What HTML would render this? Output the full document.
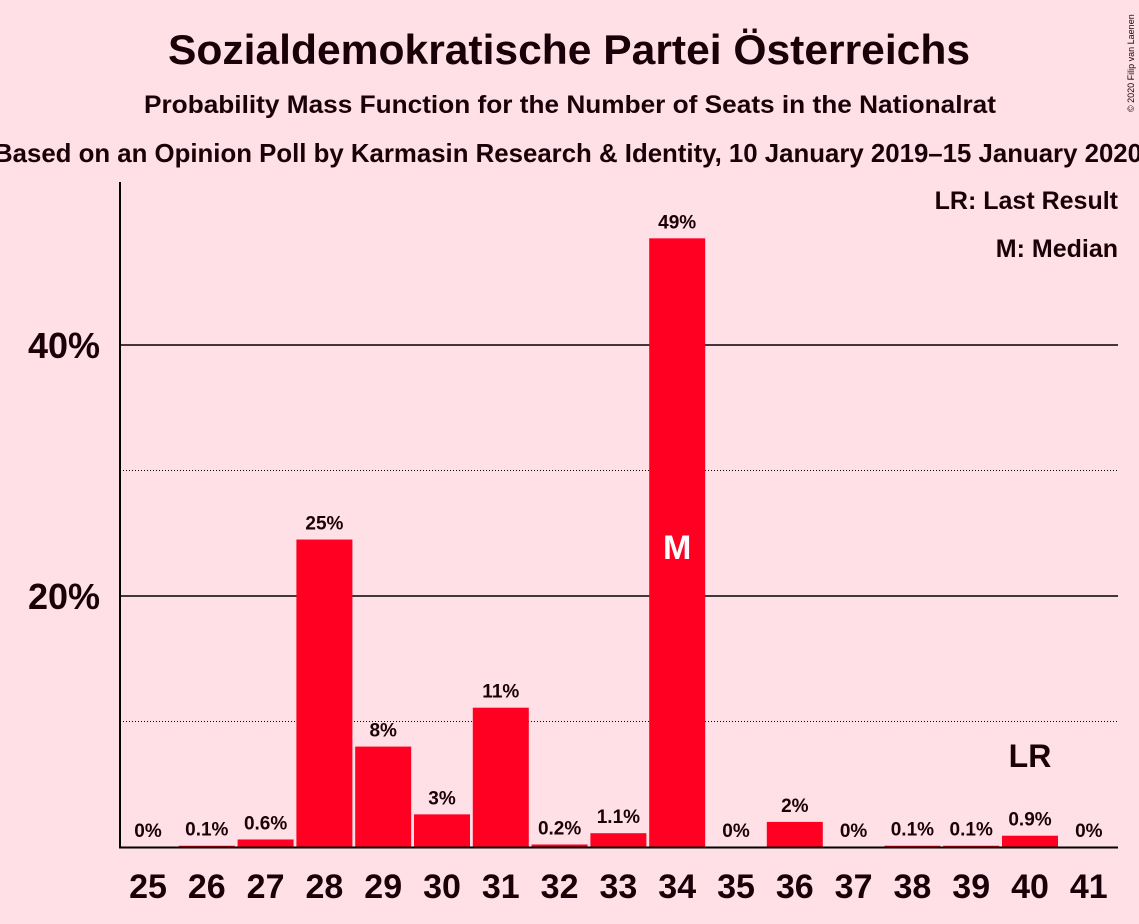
<!DOCTYPE html>
<html><head><meta charset="utf-8"><style>
body{margin:0;background:#FFE0E6;}
svg{display:block;font-family:"Liberation Sans",sans-serif;}
</style></head><body>
<svg id="chart" width="1139" height="924">
<rect width="1139" height="924" fill="#FFE0E6"/>
<text x="569" y="64" text-anchor="middle" font-size="42" font-weight="bold" fill="#1a0008" textLength="802" lengthAdjust="spacingAndGlyphs">Sozialdemokratische Partei Österreichs</text>
<text x="570" y="113" text-anchor="middle" font-size="25" font-weight="bold" fill="#1a0008" textLength="852" lengthAdjust="spacingAndGlyphs">Probability Mass Function for the Number of Seats in the Nationalrat</text>
<text x="568" y="162" text-anchor="middle" font-size="26" font-weight="bold" fill="#1a0008" textLength="1148" lengthAdjust="spacingAndGlyphs">Based on an Opinion Poll by Karmasin Research &amp; Identity, 10 January 2019–15 January 2020</text>
<text transform="translate(1134,112) rotate(-90)" font-size="9" fill="#1a0008">© 2020 Filip van Laenen</text>
<g id="grid"></g>
<g id="bars"></g>
<line x1="120" y1="182" x2="120" y2="848" stroke="#000" stroke-width="2"/>
<line x1="119" y1="847.5" x2="1118" y2="847.5" stroke="#000" stroke-width="2"/>
<text x="1118" y="209" text-anchor="end" font-size="25" font-weight="bold" fill="#1a0008">LR: Last Result</text>
<text x="1118" y="257" text-anchor="end" font-size="25" font-weight="bold" fill="#1a0008">M: Median</text>
</svg>
<script>
const seats=[25,26,27,28,29,30,31,32,33,34,35,36,37,38,39,40,41];
const probs=[0,0.1,0.6,24.5,8,2.6,11.1,0.2,1.1,48.5,0,2,0,0.1,0.1,0.9,0];
const labels=["0%","0.1%","0.6%","25%","8%","3%","11%","0.2%","1.1%","49%","0%","2%","0%","0.1%","0.1%","0.9%","0%"];
const yTicks=[20,40];
const yTickLabels=["20%","40%"];
const yMinor=[10,30];
const medianSeat=34, lastResultSeat=40;
const NS="http://www.w3.org/2000/svg";
const y=v=>847-v*12.55;
const x=s=>148+(s-25)*58.8;
function mk(t,a,p){const e=document.createElementNS(NS,t);for(const k in a)e.setAttribute(k,a[k]);p.appendChild(e);return e;}
const grid=document.getElementById('grid'),bars=document.getElementById('bars');
yMinor.forEach(v=>{const l=mk('line',{x1:120,x2:1118,y1:y(v),y2:y(v),stroke:'#000','stroke-width':1,'stroke-dasharray':'1,2'},grid);

});
yTicks.forEach((v,i)=>{const l=mk('line',{x1:120,x2:1118,y1:y(v),y2:y(v),stroke:'#000','stroke-width':1.5},grid);


const t=mk('text',{x:100,y:y(v)+13,'text-anchor':'end','font-size':36,'font-weight':'bold',fill:'#1a0008'},grid);t.textContent=yTickLabels[i];

});
seats.forEach((s,i)=>{const v=probs[i];
if(v>0){const r=mk('rect',{x:x(s)-28,y:y(v),width:56,height:847-y(v),fill:'#FF0022'},bars);

}
const t=mk('text',{x:x(s),y:y(v)-10,'text-anchor':'middle','font-size':19,'font-weight':'bold',fill:'#1a0008'},bars);t.textContent=labels[i];


const xl=mk('text',{x:x(s),y:898,'text-anchor':'middle','font-size':34,'font-weight':'bold',fill:'#1a0008'},bars);xl.textContent=s;


if(s===medianSeat){const m=mk('text',{x:x(s),y:559,'text-anchor':'middle','font-size':34,'font-weight':'bold',fill:'#fff'},bars);m.textContent='M';

}
if(s===lastResultSeat){const m=mk('text',{x:x(s),y:767,'text-anchor':'middle','font-size':32,'font-weight':'bold',fill:'#1a0008'},bars);m.textContent='LR';

}
});
</script>
</body></html>
